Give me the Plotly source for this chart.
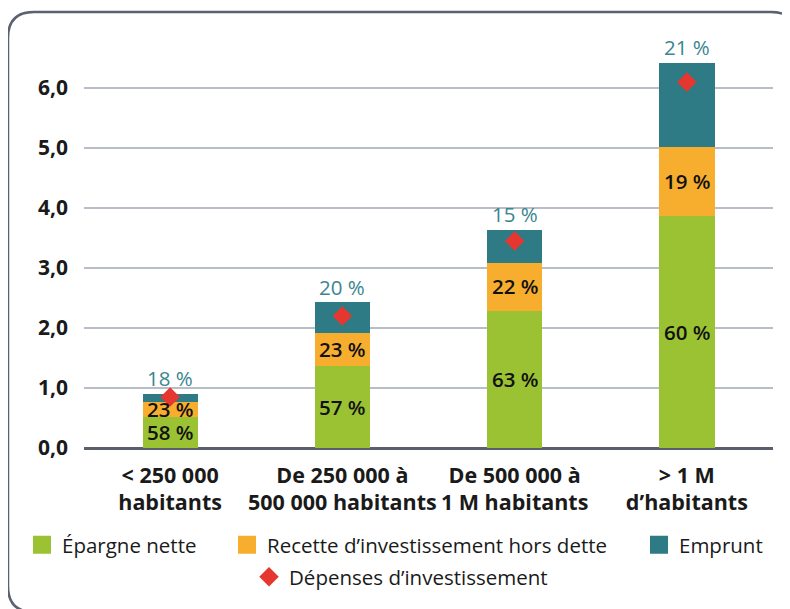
import plotly.graph_objects as go

categories = ["< 250 000<br>habitants", "De 250 000 à<br>500 000 habitants",
              "De 500 000 à<br>1 M habitants", "> 1 M<br>d’habitants"]
epargne = [0.52, 1.37, 2.30, 3.87]
recette = [0.25, 0.55, 0.80, 1.16]
emprunt = [0.13, 0.50, 0.53, 1.38]
depenses = [0.85, 2.20, 3.45, 6.10]
pct_epargne = ["58 %", "57 %", "63 %", "60 %"]
pct_recette = ["23 %", "23 %", "22 %", "19 %"]
pct_emprunt = ["18 %", "20 %", "15 %", "21 %"]
y_ticks = [0, 1, 2, 3, 4, 5, 6]
y_tick_text = ["0,0", "1,0", "2,0", "3,0", "4,0", "5,0", "6,0"]

GREEN = "#9bc232"
ORANGE = "#f7ae2f"
TEAL = "#2f7b85"
RED = "#e5372f"
FONT = "Open Sans"

OFF = 8  # page body margin
W, H = 790 - OFF, 609 - OFF
PLOT_L, PLOT_R, PLOT_T, PLOT_B = 84, 773, 46, 448  # page pixels
ML, MR, MT, MB = PLOT_L - OFF, W - (PLOT_R - OFF), PLOT_T - OFF, H - (PLOT_B - OFF)
PW, PH = W - ML - MR, H - MT - MB


def px_x(p):
    return (p - PLOT_L) / PW


def px_y(p):
    return (PLOT_B - p) / PH


fig = go.Figure()
series = [
    ("Épargne nette", epargne, GREEN, "legend"),
    ("Recette d’investissement hors dette", recette, ORANGE, "legend2"),
    ("Emprunt", emprunt, TEAL, "legend3"),
]
for name, vals, col, lg in series:
    fig.add_bar(x=categories, y=vals, name=name, marker=dict(color=col, line=dict(color=col, width=1)),
                width=0.315, showlegend=False, legendgroup=name)
    # legend entry with a larger square swatch
    fig.add_scatter(x=[categories[0]], y=[None], name=name, mode="markers", legendgroup=name, legend=lg,
                    marker=dict(symbol="square", size=16, color=col, line=dict(color=col, width=2)),
                    hoverinfo="skip")
fig.add_scatter(x=categories, y=depenses, name="Dépenses d’investissement", mode="markers",
                marker=dict(symbol="diamond", size=15, color=RED), legend="legend4")

LBL = dict(family=FONT, size=20.5, color="#111111", weight=600)
annotations = []
for i, c in enumerate(categories):
    g, o, t = epargne[i], recette[i], emprunt[i]
    annotations.append(dict(x=c, y=g / 2, text=pct_epargne[i], showarrow=False, font=LBL))
    annotations.append(dict(x=c, y=g + o / 2, text=pct_recette[i], showarrow=False, font=LBL))
    annotations.append(dict(x=c, y=g + o + t, text=pct_emprunt[i], showarrow=False, yanchor="bottom", yshift=0,
                            font=dict(family=FONT, size=20.5, color="#3a8590", weight=500)))

# rounded frame (page pixels)
x0, x1 = px_x(8), px_x(797)
y0, y1 = px_y(12), px_y(612)
rx = 26 / PW
ry = 26 / PH
path = (f"M {x0},{y0 - ry} Q {x0},{y0} {x0 + rx},{y0} L {x1 - rx},{y0} Q {x1},{y0} {x1},{y0 - ry} "
        f"L {x1},{y1 + ry} Q {x1},{y1} {x1 - rx},{y1} L {x0 + rx},{y1} Q {x0},{y1} {x0},{y1 + ry} Z")

leg_font = dict(family=FONT, size=20.5, color="#1a1a1a")
row1 = px_y(545)
row2 = px_y(577)


def leg(xp, yp):
    return dict(x=px_x(xp), y=yp, xanchor="left", yanchor="middle", orientation="h",
                font=leg_font, bgcolor="rgba(0,0,0,0)", itemclick=False, itemdoubleclick=False,
                tracegroupgap=0)


fig.update_layout(
    width=W, height=H,
    margin=dict(l=ML, r=MR, t=MT, b=MB),
    barmode="stack",
    plot_bgcolor="white", paper_bgcolor="white",
    font=dict(family=FONT, color="#1a1a1a"),
    showlegend=True,
    legend=leg(22, row1),
    legend2=leg(227, row1),
    legend3=leg(639, row1),
    legend4=leg(249, row2),
    annotations=annotations,
    shapes=[dict(type="path", xref="paper", yref="paper", path=path,
                 line=dict(color="#5b6170", width=2.5), fillcolor="rgba(0,0,0,0)", layer="below")],
    xaxis=dict(showgrid=False, showline=False, ticks="",
               tickfont=dict(family=FONT, size=21.5, color="#1a1a1a", weight="bold"),
               ticklabelstandoff=12),
    yaxis=dict(range=[0, PH / 60], tickvals=y_ticks, ticktext=y_tick_text, showgrid=True, gridcolor="#b9bdc8",
               gridwidth=2, zeroline=True, zerolinecolor="#5a5f6b", zerolinewidth=2.5, showline=False,
               tickfont=dict(family=FONT, size=21, color="#1a1a1a", weight="bold"), ticklabelstandoff=15),
)

fig.write_html("out.html")
